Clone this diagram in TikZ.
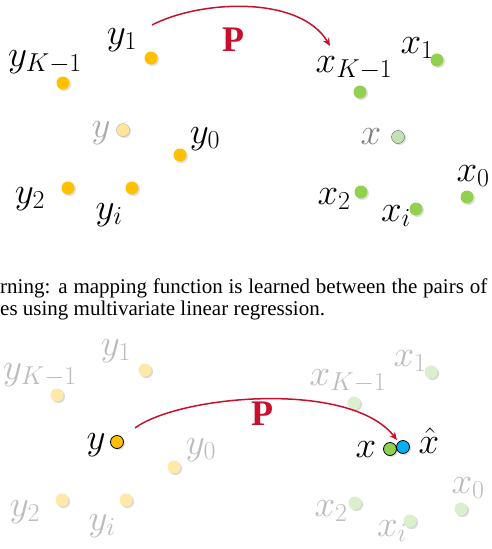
\RequirePackage{fix-cm}
\documentclass[tikz,border=0pt]{standalone}
\usepackage[no-math]{fontspec}
\setmainfont{Liberation Serif}
\usetikzlibrary{arrows.meta,shadows}
\definecolor{dotY}{RGB}{255,192,0}
\definecolor{dotX}{RGB}{146,208,80}
\definecolor{dotXh}{RGB}{0,176,240}
\definecolor{mapRed}{RGB}{200,16,46}
\definecolor{paleY}{RGB}{255,232,168}
\definecolor{paleX}{RGB}{218,239,203}
\definecolor{paleTxt}{RGB}{188,188,188}
\begin{document}
\begin{tikzpicture}[x=1pt,y=-1pt,
  lbl/.style={inner sep=0pt,font=\fontsize{37}{40}\selectfont},
  pale/.style={lbl,text=paleTxt},
  dot/.style={circle,inner sep=0pt,minimum size=13pt,drop shadow={shadow xshift=1.5pt,shadow yshift=-1.5pt,opacity=.25}},
  ydot/.style={dot,fill=dotY},
  xdot/.style={dot,fill=dotX},
  ypale/.style={dot,fill=paleY,drop shadow={shadow xshift=1.5pt,shadow yshift=-1.5pt,opacity=.08}},
  xpale/.style={dot,fill=paleX,drop shadow={shadow xshift=1.5pt,shadow yshift=-1.5pt,opacity=.08}},
  mapto/.style={-{Stealth[length=8pt,width=7pt]},line width=1.5pt,mapRed},
  pmap/.style={inner sep=0pt,text=mapRed,font=\fontsize{36}{40}\selectfont\bfseries},
  captxt/.style={inner sep=0pt,anchor=base west,font=\fontsize{21}{22}\selectfont}]
\useasboundingbox (0,0) rectangle (492,549);
% top: training pairs
\node[ydot] (y1) at (151,58) {};
\node[ydot] (yK) at (63,83) {};
\node[dot,fill={rgb,255:red,255;green,230;blue,153},draw={rgb,255:red,175;green,175;blue,175},thin] (yq) at (123,130) {};
\node[ydot] (y0) at (180,155) {};
\node[ydot] (y2) at (68,188) {};
\node[ydot] (yi) at (132,188) {};
\node[lbl] (ly1) at (122,40) {$y_1$};
\node[lbl] (lyK) at (45,62) {$y_{K-1}$};
\node[lbl,text={rgb,255:red,170;green,170;blue,170}] (lyq) at (101,133) {$y$};
\node[lbl] (ly0) at (205,139) {$y_0$};
\node[lbl] (ly2) at (30,199) {$y_2$};
\node[lbl] (lyi) at (109,215) {$y_i$};
\node[xdot] (x1) at (437,60) {};
\node[xdot] (xK) at (360,92) {};
\node[dot,fill={rgb,255:red,197;green,224;blue,180},draw={rgb,255:red,95;green,95;blue,95},thin] (xq) at (398,137) {};
\node[xdot] (x2) at (361,192) {};
\node[xdot] (xi) at (416,209) {};
\node[xdot] (x0) at (467,197) {};
\node[lbl] (lx1) at (417,48) {$x_1$};
\node[lbl] (lxK) at (354,68) {$x_{K-1}$};
\node[lbl,text={rgb,255:red,128;green,128;blue,128}] (lxq) at (371,137) {$x$};
\node[lbl] (lx2) at (334,199) {$x_2$};
\node[lbl] (lxi) at (396,216) {$x_i$};
\node[lbl] (lx0) at (473,176) {$x_0$};
\coordinate (pA) at (152,25);
\coordinate (pB) at (330,46);
\draw[mapto] (pA) .. controls (200,0) and (300,-5) .. (pB);
\node[pmap] (P1) at (233,40) {P};
% caption
\node[captxt] (capA) at (0,293) {\makebox[487pt][s]{rning: a mapping function is learned between the pairs of}};
\node[captxt] (capB) at (0,315) {es using multivariate linear regression.};
% bottom: prediction
\node[ypale] (by1) at (145,370) {};
\node[ypale] (byK) at (57,395) {};
\node[ypale] (by0) at (174,467) {};
\node[ypale] (by2) at (62,500) {};
\node[ypale] (byi) at (126,500) {};
\node[ydot,draw=black,thick] (by) at (117,442) {};
\node[pale] (lby1) at (116,351) {$y_1$};
\node[pale] (lbyK) at (40,375) {$y_{K-1}$};
\node[lbl] (lby) at (96,445) {$y$};
\node[pale] (lby0) at (201,450) {$y_0$};
\node[pale] (lby2) at (25,512) {$y_2$};
\node[pale] (lbyi) at (102,526) {$y_i$};
\node[xpale] (bx1) at (431,372) {};
\node[xpale] (bxK) at (354,403) {};
\node[xpale] (bx2) at (355,503) {};
\node[xpale] (bxi) at (410,521) {};
\node[xpale] (bx0) at (461,509) {};
\node[xdot,draw=black,thick] (bx) at (390,449) {};
\node[dot,fill=dotXh,draw=black,thick] (bxh) at (403,447) {};
\node[pale] (lbx1) at (410,361) {$x_1$};
\node[pale] (lbxK) at (348,381) {$x_{K-1}$};
\node[lbl] (lbx) at (366,450) {$x$};
\node[lbl] (lbxh) at (429,441) {$\hat{x}$};
\node[pale] (lbx2) at (331,511) {$x_2$};
\node[pale] (lbxi) at (392,531) {$x_i$};
\node[pale] (lbx0) at (468,488) {$x_0$};
\coordinate (qA) at (135,428);
\coordinate (qB) at (397,440);
\draw[mapto] (qA) .. controls (180,395) and (350,380) .. (qB);
\node[pmap] (P2) at (262,414) {P};
\end{tikzpicture}
\end{document}
